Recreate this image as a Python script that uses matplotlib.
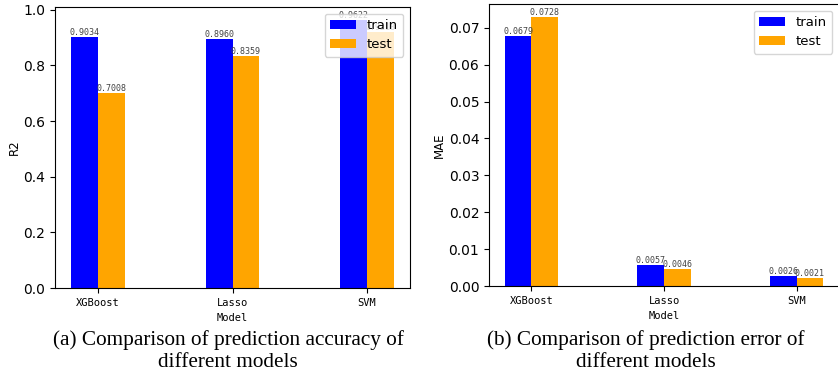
import numpy as np
import matplotlib.pyplot as plt

models = ["XGBoost", "Lasso", "SVM"]
r2_train = [0.9034, 0.8960, 0.9622]
r2_test = [0.7008, 0.8359, 0.9218]
mae_train = [0.0679, 0.0057, 0.0026]
mae_test = [0.0728, 0.0046, 0.0021]

W = 838 / 100
H = 375 / 100
fig = plt.figure(figsize=(W, H), dpi=100)

ax1 = fig.add_axes([55 / 838, 87 / 375, 355 / 838, 281 / 375])
ax2 = fig.add_axes([489 / 838, 89 / 375, 350 / 838, 282 / 375])

x = np.arange(len(models))
width = 0.2


def draw(ax, train, test, ylabel):
    b1 = ax.bar(x - width / 2, train, width, color="blue", label="train")
    b2 = ax.bar(x + width / 2, test, width, color="orange", label="test")
    for bars in (b1, b2):
        for b in bars:
            h = b.get_height()
            ax.text(b.get_x() + b.get_width() / 2, h, "%.4f" % h,
                    ha="center", va="bottom", fontsize=6,
                    family="DejaVu Sans Mono", color="#444444")
    ax.set_xticks(x)
    ax.set_xticklabels(models, family="DejaVu Sans Mono", fontsize=7.5)
    ax.tick_params(axis="y", labelsize=10)
    ax.set_xlabel("Model", family="DejaVu Sans Mono", fontsize=7.5, labelpad=4)
    ax.set_ylabel(ylabel, fontsize=8.5, labelpad=2)
    leg = ax.legend(loc="upper right", fontsize=9.5)
    leg.set_zorder(5)


draw(ax1, r2_train, r2_test, "R2")
draw(ax2, mae_train, mae_test, "MAE")

fig.text(228 / 838, 1 - 351 / 375,
         "(a) Comparison of prediction accuracy of\ndifferent models",
         ha="center", va="center", family="Liberation Serif",
         fontsize=15.3, linespacing=1.22)
fig.text(646 / 838, 1 - 351 / 375,
         "(b) Comparison of prediction error of\ndifferent models",
         ha="center", va="center", family="Liberation Serif",
         fontsize=15.3, linespacing=1.22)

fig.savefig("out.png", dpi=100)
